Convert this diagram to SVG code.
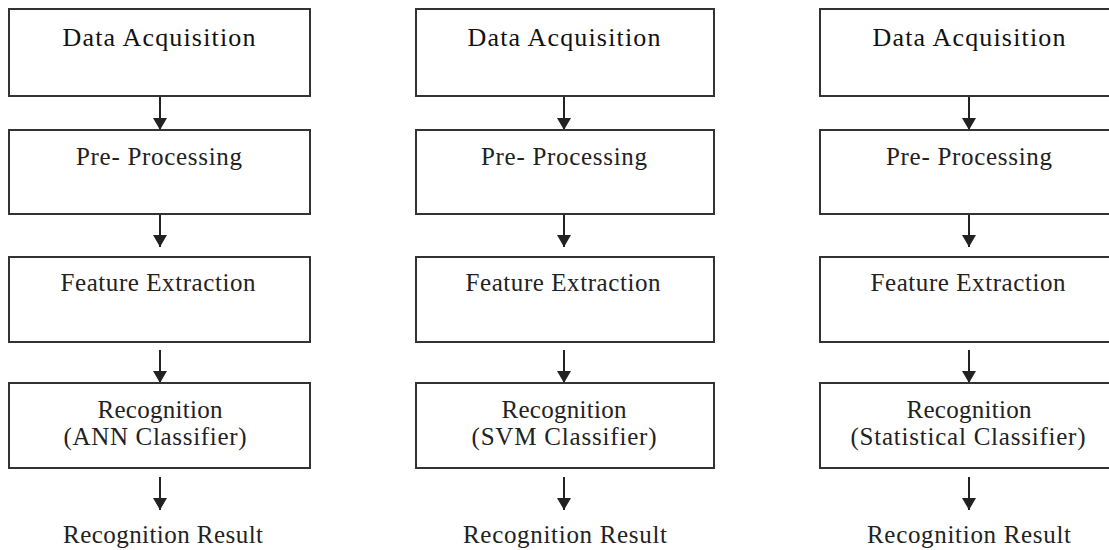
<svg xmlns="http://www.w3.org/2000/svg" width="1109" height="550" viewBox="0 0 1109 550">
<style>
.box{fill:#fff;stroke:#333;stroke-width:2}
.t{font-family:"Liberation Serif",serif;font-size:25px;fill:#222;text-anchor:middle}
.h{font-family:"Liberation Serif",serif;font-size:26px;fill:#111;text-anchor:middle}
.c{stroke:#222;stroke-width:2;fill:none}
</style>
<defs>
<marker id="ah" markerWidth="12" markerHeight="14" refX="12" refY="7" orient="auto" markerUnits="userSpaceOnUse" viewBox="0 0 12 14">
<path d="M0,0 L12,7 L0,14 Z" fill="#222"/>
</marker>
</defs>
<rect width="1109" height="550" fill="#fff"/>
<g id="connectors">
<line class="c" x1="160" y1="96" x2="160" y2="130" marker-end="url(#ah)"/>
<line class="c" x1="160" y1="214" x2="160" y2="247" marker-end="url(#ah)"/>
<line class="c" x1="160" y1="350" x2="160" y2="383" marker-end="url(#ah)"/>
<line class="c" x1="160" y1="477" x2="160" y2="510" marker-end="url(#ah)"/>
<line class="c" x1="564" y1="96" x2="564" y2="130" marker-end="url(#ah)"/>
<line class="c" x1="564" y1="214" x2="564" y2="247" marker-end="url(#ah)"/>
<line class="c" x1="564" y1="350" x2="564" y2="383" marker-end="url(#ah)"/>
<line class="c" x1="564" y1="477" x2="564" y2="510" marker-end="url(#ah)"/>
<line class="c" x1="969" y1="96" x2="969" y2="130" marker-end="url(#ah)"/>
<line class="c" x1="969" y1="214" x2="969" y2="247" marker-end="url(#ah)"/>
<line class="c" x1="969" y1="350" x2="969" y2="383" marker-end="url(#ah)"/>
<line class="c" x1="969" y1="477" x2="969" y2="510" marker-end="url(#ah)"/>
</g>
<g id="c1-acq"><rect class="box" x="9" y="9" width="301" height="87"/><text class="h" x="159" y="46" textLength="193" lengthAdjust="spacing">Data Acquisition</text></g>
<g id="c1-pre"><rect class="box" x="9" y="130" width="301" height="84"/><text class="t" x="159" y="165" textLength="166" lengthAdjust="spacing">Pre- Processing</text></g>
<g id="c1-feat"><rect class="box" x="9" y="257" width="301" height="85"/><text class="t" x="158" y="291" textLength="195" lengthAdjust="spacing">Feature Extraction</text></g>
<g id="c1-rec"><rect class="box" x="9" y="383" width="301" height="85"/><text class="t" x="160" y="418" textLength="125" lengthAdjust="spacing">Recognition</text><text class="t" x="155" y="445" textLength="183" lengthAdjust="spacing">(ANN Classifier)</text></g>
<g id="c1-res"><text class="t" x="163" y="543" textLength="200" lengthAdjust="spacing">Recognition Result</text></g>

<g id="c2-acq"><rect class="box" x="416" y="9" width="298" height="87"/><text class="h" x="564" y="46" textLength="193" lengthAdjust="spacing">Data Acquisition</text></g>
<g id="c2-pre"><rect class="box" x="416" y="130" width="298" height="84"/><text class="t" x="564" y="165" textLength="166" lengthAdjust="spacing">Pre- Processing</text></g>
<g id="c2-feat"><rect class="box" x="416" y="257" width="298" height="85"/><text class="t" x="563" y="291" textLength="195" lengthAdjust="spacing">Feature Extraction</text></g>
<g id="c2-rec"><rect class="box" x="416" y="383" width="298" height="85"/><text class="t" x="564" y="418" textLength="125" lengthAdjust="spacing">Recognition</text><text class="t" x="564" y="445" textLength="185" lengthAdjust="spacing">(SVM Classifier)</text></g>
<g id="c2-res"><text class="t" x="565" y="543" textLength="204" lengthAdjust="spacing">Recognition Result</text></g>

<g id="c3-acq"><rect class="box" x="820" y="9" width="301" height="87"/><text class="h" x="969" y="46" textLength="193" lengthAdjust="spacing">Data Acquisition</text></g>
<g id="c3-pre"><rect class="box" x="820" y="130" width="301" height="84"/><text class="t" x="969" y="165" textLength="166" lengthAdjust="spacing">Pre- Processing</text></g>
<g id="c3-feat"><rect class="box" x="820" y="257" width="301" height="85"/><text class="t" x="968" y="291" textLength="195" lengthAdjust="spacing">Feature Extraction</text></g>
<g id="c3-rec"><rect class="box" x="820" y="383" width="301" height="85"/><text class="t" x="969" y="418" textLength="125" lengthAdjust="spacing">Recognition</text><text class="t" x="968" y="445" textLength="235" lengthAdjust="spacing">(Statistical Classifier)</text></g>
<g id="c3-res"><text class="t" x="969" y="543" textLength="204" lengthAdjust="spacing">Recognition Result</text></g>
</svg>
